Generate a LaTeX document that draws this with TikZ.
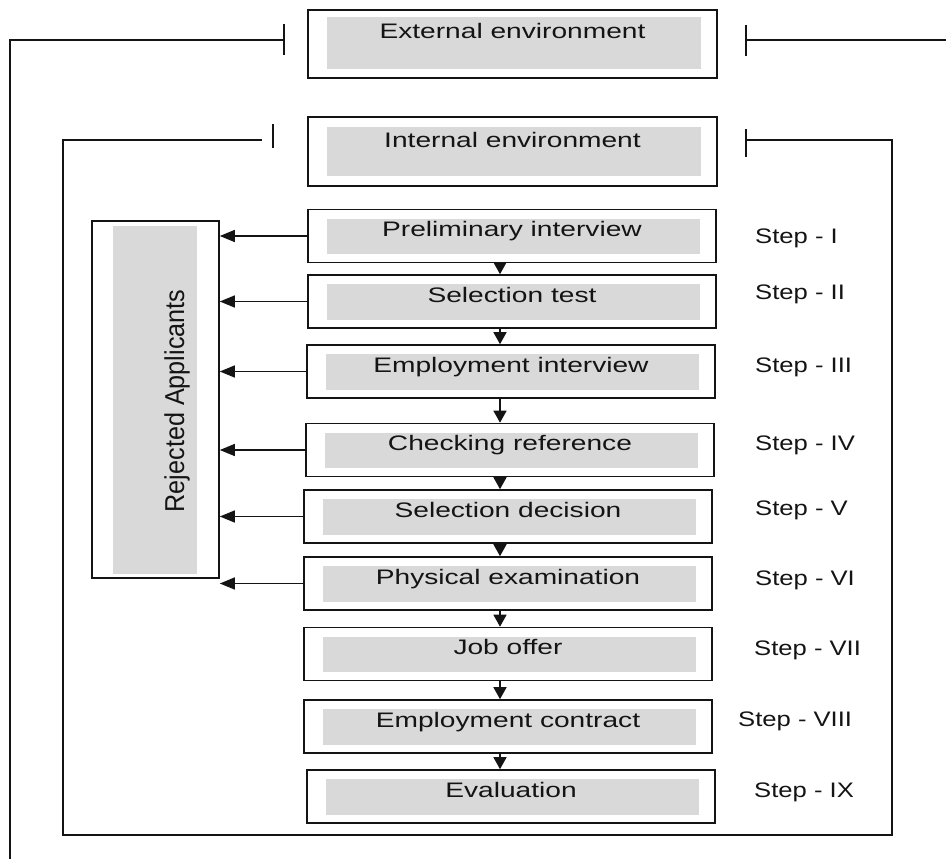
\documentclass[tikz,border=0pt]{standalone}
\usepackage{fontspec}
\setmainfont{Liberation Sans}
\usetikzlibrary{arrows.meta,calc}
\definecolor{ink}{HTML}{141414}
\definecolor{boxgray}{HTML}{D9D9D9}
\newcommand{\widen}[1]{\scalebox{1.34}[1]{#1}}
\newcommand{\widenstep}[1]{\scalebox{1.22}[1]{#1}}

\begin{document}
\begin{tikzpicture}[x=1pt,y=-1pt,font=\fontsize{21}{25}\selectfont,
  procbox/.style={draw=ink,line width=1.6pt,minimum width=408pt,minimum height=53pt,inner sep=0pt},
  envbox/.style={procbox,minimum width=409pt,minimum height=68pt},
  shade/.style={fill=boxgray},
  boxtext/.style={anchor=base,text=ink,inner sep=0pt},
  steplbl/.style={anchor=base west,text=ink,inner sep=0pt},
  frame/.style={draw=ink,line width=1.4pt},
  flow/.style={draw=ink,line width=1.4pt,-{Triangle[length=12pt,width=13pt]}},
  reject/.style={draw=ink,line width=1.4pt,-{Triangle[length=15pt,width=12pt]}}]
\useasboundingbox (0,0) rectangle (946,859);
% environment boxes
\node[envbox] (ext) at (512.5,44) {};
\fill[shade] ([shift={(20pt,-8pt)}]ext.north west) rectangle ([shift={(-17pt,10pt)}]ext.south east);
\node[boxtext] (ext-t) at ([yshift=-29pt]ext.north) {\widen{External environment}};
\node[envbox,minimum height=69pt] (int) at (512.5,151.5) {};
\fill[shade] ([shift={(20pt,-11pt)}]int.north west) rectangle ([shift={(-17pt,11pt)}]int.south east);
\node[boxtext] (int-t) at ([yshift=-31pt]int.north) {\widen{Internal environment}};
% outer frame (external)
\coordinate (eL) at (284,40);
\coordinate (eR) at (746,40);
\coordinate (eB) at (10,859);
\coordinate (eE) at (946,40);
\draw[frame] ([yshift=16pt]eL) -- ([yshift=-15pt]eL);
\draw[frame] ([yshift=15pt]eR) -- ([yshift=-16pt]eR);
\draw[frame] (eL) -| (eB);
\draw[frame] (eR) -- (eE);
% inner frame (internal)
\coordinate (iL) at (262,140);
\coordinate (iT) at (273,136);
\coordinate (iR) at (746,140);
\coordinate (iBL) at (63,835);
\coordinate (iBR) at (892,835);
\draw[frame] ([yshift=12pt]iT) -- ([yshift=-12pt]iT);
\draw[frame] ([yshift=11pt]iR) -- ([yshift=-17pt]iR);
\draw[frame] (iL) -| (iBL) -- (iBR) |- (iR);
% selection steps
\foreach \i/\cx/\cy/\txt/\st/\sx/\sy in {
  1/512/236/Preliminary interview/I/755/243,
  2/512/301.5/Selection test/II/755/299,
  3/511/371.5/Employment interview/III/755/372,
  4/510/450/Checking reference/IV/755/450,
  5/508/516.5/Selection decision/V/755/515,
  6/508/583.5/Physical examination/VI/755/585,
  7/508/654/Job offer/VII/754/655,
  8/508/726.5/Employment contract/VIII/738/726,
  9/511/796.5/Evaluation/IX/754/797}{
  \node[procbox] (p\i) at (\cx,\cy) {};
  \fill[shade] ([shift={(20pt,-10pt)}]p\i.north west) rectangle ([shift={(-17pt,9pt)}]p\i.south east);
  \node[boxtext] (t\i) at ([yshift=-28pt]p\i.north) {\widen{\txt}};
  \node[steplbl] (s\i) at (\sx,\sy) {\widenstep{Step - \st}};
}
% rejected applicants
\node[procbox,minimum width=127pt,minimum height=357pt] (rej) at (155.5,399.5) {};
\fill[shade] ([shift={(22pt,-6pt)}]rej.north west) rectangle ([shift={(-23pt,5pt)}]rej.south east);
\node[text=ink,rotate=90,inner sep=0pt] (rej-t) at (177,401) {\scalebox{1.2}[1.3]{Rejected Applicants}};
% connectors
\coordinate (ax) at (500,0);
\foreach \a/\b in {1/2,2/3,3/4,4/5,5/6,6/7,7/8,8/9}
  \draw[flow] (p\a.south -| ax) -- (p\b.north -| ax);
\foreach \a in {1,...,6}
  \draw[reject] (p\a.west) -- (p\a.west -| rej.east);
\end{tikzpicture}
\end{document}
